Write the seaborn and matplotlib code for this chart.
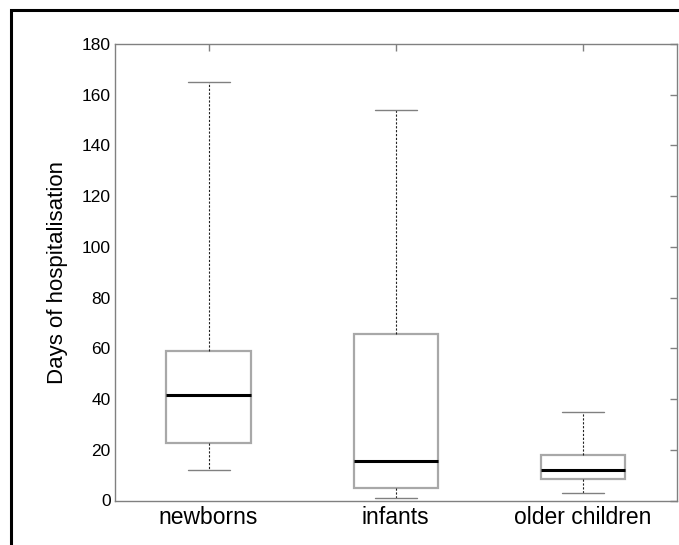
import pandas as pd
import seaborn as sns
import matplotlib.pyplot as plt
from matplotlib.patches import Rectangle

# five-number summaries (min, q1, median, q3, max)
groups = ['newborns', 'infants', 'older children']
newborns = [12, 22.5, 41.5, 59, 165]
infants = [1, 5, 15.5, 65.5, 154]
older_children = [3, 8.3, 12, 18, 35]
yticks = [0, 20, 40, 60, 80, 100, 120, 140, 160, 180]

df = pd.DataFrame({
    'group': [g for g, v in zip(groups, [newborns, infants, older_children]) for _ in v],
    'days': newborns + infants + older_children,
})

sns.set_style('white')
plt.rcParams['font.family'] = ['Liberation Sans', 'DejaVu Sans']

fig = plt.figure(figsize=(6.79, 5.45), dpi=100)
ax = fig.add_axes([115 / 679, 1 - 500.5 / 545, 561.5 / 679, 456.5 / 545])

sns.boxplot(data=df, x='group', y='days', order=groups, whis=(0, 100), width=0.45,
            color='white', linecolor='#a8a8a8', linewidth=1.6, ax=ax,
            medianprops={'color': 'black', 'linewidth': 2.2},
            whiskerprops={'color': '#222222', 'linewidth': 0.8, 'linestyle': (0, (2, 1.5))},
            capprops={'color': '#808080', 'linewidth': 1.0})

ax.set_xlim(-0.5, 2.5)
ax.set_ylim(0, 180)
ax.set_yticks(yticks)
ax.set_xlabel('')
ax.set_ylabel('Days of hospitalisation', fontsize=16, labelpad=10, color='black')
ax.tick_params(axis='both', direction='in', top=True, right=True, length=5,
               color='#808080', width=1, labelcolor='black')
ax.tick_params(axis='y', labelsize=12.5, pad=3)
ax.tick_params(axis='x', labelsize=16.5, pad=4)
for s in ax.spines.values():
    s.set_color('#808080')
    s.set_linewidth(1)

# outer black frame of the original figure (cut off at right and bottom)
top = 1 - 9.5 / 545
fig.patches.append(Rectangle((11 / 679, -0.2), 1.2, top + 0.2, fill=False,
                             edgecolor='black', linewidth=2.2, transform=fig.transFigure))

fig.savefig('out.png', dpi=100)
